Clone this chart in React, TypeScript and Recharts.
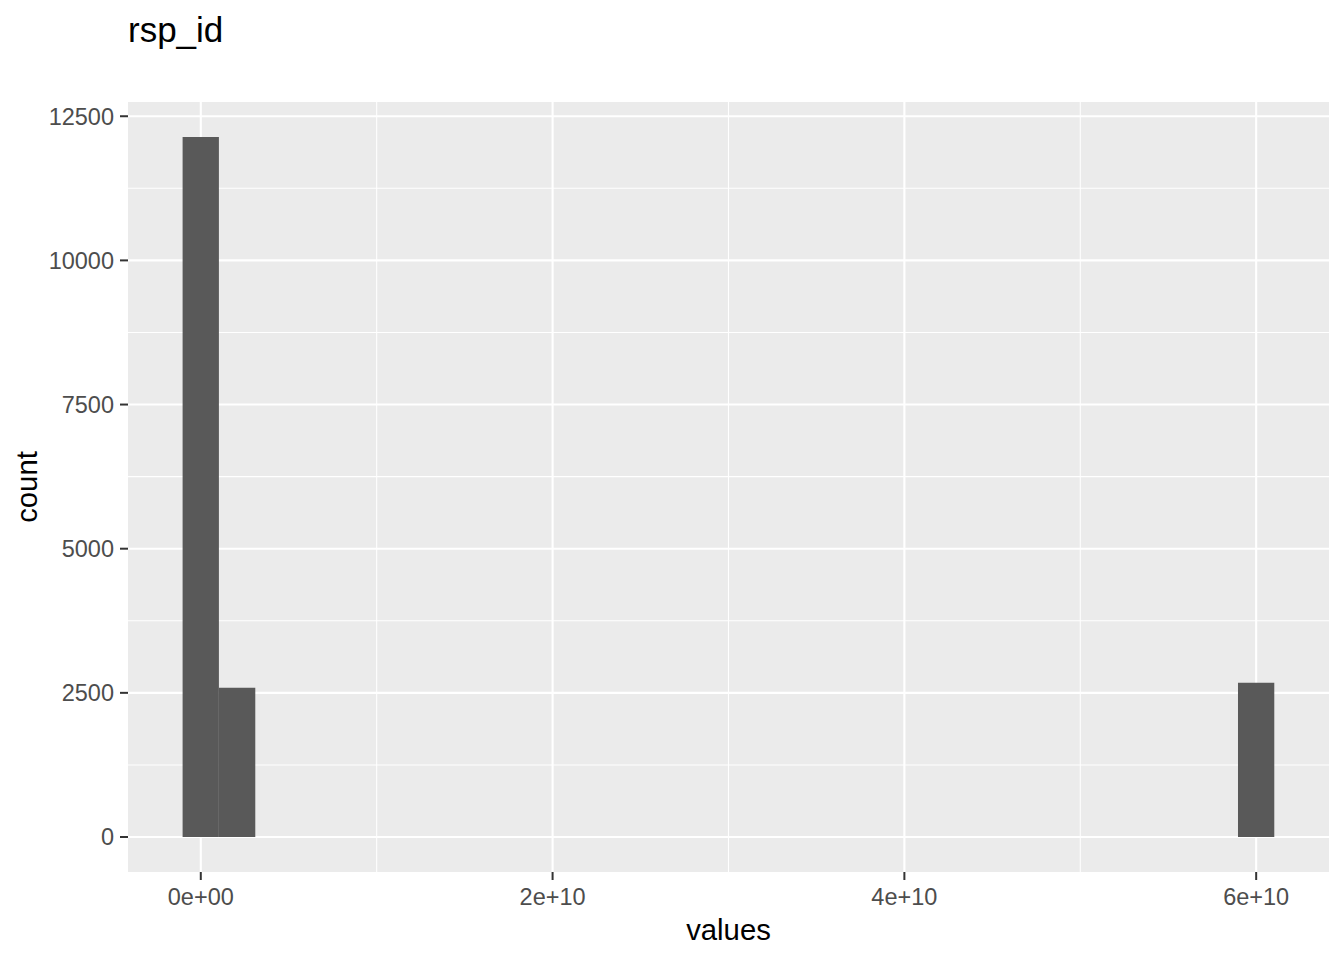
import React from "react";
import { BarChart, Bar, XAxis, YAxis, CartesianGrid, Label } from "recharts";

// bin centres (x1e9) of the 30-bin histogram
const binCenters = [
  0, 2.069, 4.138, 6.207, 8.276, 10.345, 12.414, 14.483, 16.552, 18.621,
  20.69, 22.759, 24.828, 26.897, 28.966, 31.034, 33.103, 35.172, 37.241, 39.31,
  41.379, 43.448, 45.517, 47.586, 49.655, 51.724, 53.793, 55.862, 57.931, 60.0,
];
const counts = [
  12140, 2590, 0, 0, 0, 0, 0, 0, 0, 0,
  0, 0, 0, 0, 0, 0, 0, 0, 0, 0,
  0, 0, 0, 0, 0, 0, 0, 0, 0, 2675,
];
const xTicks = [0, 2e10, 4e10, 6e10];
const xTickLabels = ["0e+00", "2e+10", "4e+10", "6e+10"];
const xMinor = [1e10, 3e10, 5e10];
const yTicks = [0, 2500, 5000, 7500, 10000, 12500];
const yMinor = [1250, 3750, 6250, 8750, 11250];

const data = binCenters.map((c, i) => ({ x: c * 1e9, count: counts[i] }));

const FONT = "'Liberation Sans', Arial, sans-serif";
const tickStyle = { fontSize: 23.5, fill: "#4D4D4D", fontFamily: FONT };

const App: React.FC = () => {
  return (
    <div style={{ position: "absolute", left: 0, top: 0, width: 1344, height: 960, background: "#fff" }}>
      <div
        style={{
          position: "absolute",
          left: 128,
          top: 12,
          fontFamily: FONT,
          fontSize: 35,
          lineHeight: "35px",
          color: "#000",
        }}
      >
        rsp_id
      </div>
      <BarChart
        width={1344}
        height={960}
        data={data}
        margin={{ top: 102, right: 15, bottom: 0, left: 0 }}
        barCategoryGap="0%"
        barGap={0}
      >
        <CartesianGrid
          fill="#EBEBEB"
          stroke="#FFFFFF"
          strokeWidth={1.07}
          horizontalValues={yMinor}
          verticalValues={xMinor}
        />
        <CartesianGrid fill="none" stroke="#FFFFFF" strokeWidth={2.1} horizontalValues={yTicks} verticalValues={xTicks} />
        <XAxis
          dataKey="x"
          type="number"
          domain={[-4.138e9, 6.414e10]}
          allowDataOverflow
          ticks={xTicks}
          interval={0}
          tickFormatter={(v: number) => xTickLabels[xTicks.indexOf(v)] ?? String(v)}
          axisLine={false}
          tickLine={{ stroke: "#333333", strokeWidth: 2 }}
          tickSize={8}
          tickMargin={8}
          tick={tickStyle}
          height={88}
        >
          <Label
            value="values"
            position="insideBottom"
            offset={20}
            style={{ fontSize: 29.3, fill: "#000", fontFamily: FONT }}
          />
        </XAxis>
        <YAxis
          type="number"
          domain={[-607, 12747]}
          allowDataOverflow
          ticks={yTicks}
          interval={0}
          axisLine={false}
          tickLine={{ stroke: "#333333", strokeWidth: 2 }}
          tickSize={8}
          tickMargin={6}
          tick={tickStyle}
          width={128}
        >
          <Label
            content={() => (
              <text
                x={0}
                y={0}
                transform="translate(37,487) rotate(-90)"
                textAnchor="middle"
                fontSize={29.3}
                fontFamily={FONT}
                fill="#000"
              >
                count
              </text>
            )}
          />
        </YAxis>
        <Bar dataKey="count" fill="#595959" barSize={36.3} isAnimationActive={false} />
      </BarChart>
    </div>
  );
};

export default App;
